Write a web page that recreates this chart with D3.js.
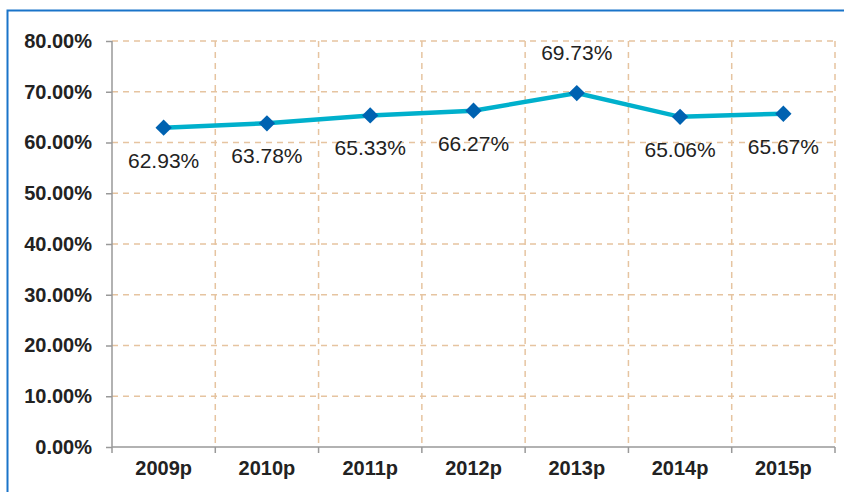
<!DOCTYPE html>
<html><head><meta charset="utf-8">
<script src="https://cdn.jsdelivr.net/npm/d3@7"></script>
<style>body{margin:0;background:#fff}svg{display:block}</style>
</head><body>
<svg id="c" width="844" height="492"></svg>
<script>
const categories = ["2009p","2010p","2011p","2012p","2013p","2014p","2015p"];
const values = [62.93, 63.78, 65.33, 66.27, 69.73, 65.06, 65.67];
const labelPos = ["below","below","below","below","above","below","below"];
const yTicks = [0,10,20,30,40,50,60,70,80];

const svg = d3.select("#c");
const L = 112, R = 835, T = 41, B = 447;
const FONT = "Liberation Sans, Arial, Helvetica, sans-serif";
// frame
svg.append("path").attr("d","M7.5,500 V10.5 H850").attr("fill","none").attr("stroke","#1a74c9").attr("stroke-width",2);

const x = d3.scaleBand().domain(categories).range([L,R]);
const y = d3.scaleLinear().domain([0,80]).range([B,T]);
const grid = "#e6c4a0";
svg.append("g").selectAll("line").data(yTicks.filter(d=>d>0)).join("line")
  .attr("x1",L).attr("x2",R).attr("y1",d=>y(d)).attr("y2",d=>y(d))
  .attr("stroke",grid).attr("stroke-width",1.5).attr("stroke-dasharray","6,5");
const bounds = categories.map(c=>x(c)+x.bandwidth());
svg.append("g").selectAll("line").data(bounds).join("line")
  .attr("x1",d=>d).attr("x2",d=>d).attr("y1",T).attr("y2",B)
  .attr("stroke",grid).attr("stroke-width",1.5).attr("stroke-dasharray","6,5");

const yAx = svg.append("g").attr("transform",`translate(${L},0)`)
  .call(d3.axisLeft(y).tickValues(yTicks).tickSize(6).tickPadding(14).tickFormat(d=>d.toFixed(2)+"%"));
yAx.select(".domain").attr("stroke","#999").attr("stroke-width",1.5).attr("d",`M0,${T}V${B}`);
yAx.selectAll(".tick line").attr("stroke","#999").attr("stroke-width",1.5);
yAx.selectAll("text").attr("font-family",FONT).attr("font-size",20).attr("font-weight","bold").attr("fill","#222");

const xAx = svg.append("g").attr("transform",`translate(0,${B})`)
  .call(d3.axisBottom(x).tickSize(0).tickPadding(14));
xAx.select(".domain").attr("stroke","#999").attr("stroke-width",1.5).attr("d",`M${L},0H${R}`);
xAx.selectAll("text").attr("font-family",FONT).attr("font-size",20).attr("font-weight","bold").attr("fill","#222");
svg.append("g").selectAll("line").data([L,...bounds]).join("line")
  .attr("x1",d=>d).attr("x2",d=>d).attr("y1",B).attr("y2",B+6)
  .attr("stroke","#999").attr("stroke-width",1.5);

const cx = c => x(c)+x.bandwidth()/2;
const data = categories.map((c,i)=>({c,v:values[i],p:labelPos[i]}));
svg.append("path").datum(data)
  .attr("d",d3.line().x(d=>cx(d.c)).y(d=>y(d.v)))
  .attr("fill","none").attr("stroke","#00b0cc").attr("stroke-width",4.5);
svg.append("g").selectAll("path").data(data).join("path")
  .attr("d",d3.symbol().type(d3.symbolDiamond2).size(170))
  .attr("transform",d=>`translate(${cx(d.c)},${y(d.v)})`)
  .attr("fill","#0062b1");
svg.append("g").selectAll("text").data(data).join("text")
  .attr("x",d=>cx(d.c)).attr("y",d=>d.p==="above"? y(d.v)-33 : y(d.v)+40)
  .attr("text-anchor","middle")
  .attr("font-family",FONT).attr("font-size",21).attr("fill","#222")
  .text(d=>d.v.toFixed(2)+"%");
</script>
</body></html>
